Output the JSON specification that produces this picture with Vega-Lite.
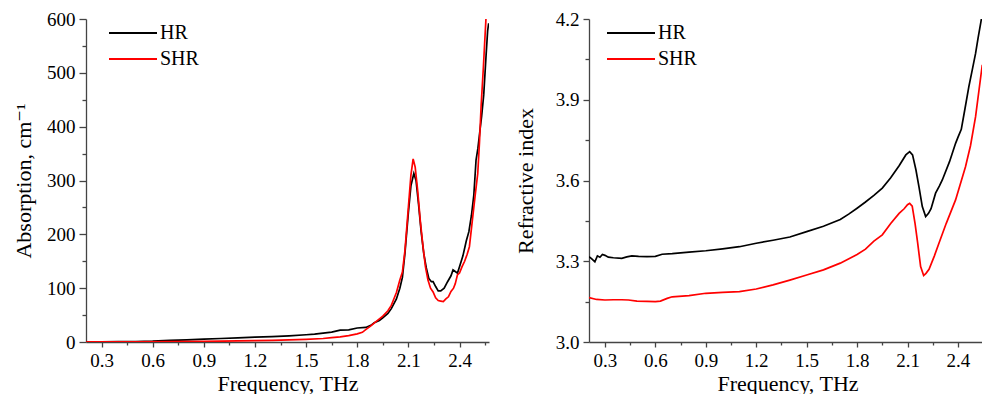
{
  "$schema": "https://vega.github.io/schema/vega-lite/v6.json",
  "autosize": {"type": "pad"},
  "padding": {"left": 12, "top": 10, "right": 0, "bottom": 0},
  "background": "white",
  "config": {
    "font": "Liberation Serif, Times New Roman, DejaVu Serif, serif",
    "view": {"stroke": null},
    "axis": {
      "labelFont": "Liberation Serif, Times New Roman, DejaVu Serif, serif",
      "titleFont": "Liberation Serif, Times New Roman, DejaVu Serif, serif",
      "labelFontSize": 19,
      "titleFontSize": 22,
      "titleFontWeight": "normal",
      "labelColor": "#000",
      "titleColor": "#000",
      "domainColor": "#444",
      "tickColor": "#444",
      "domainWidth": 1.3,
      "tickWidth": 1.3,
      "grid": false
    },
    "legend": {
      "labelFont": "Liberation Serif, Times New Roman, DejaVu Serif, serif",
      "labelFontSize": 20,
      "labelColor": "#000"
    }
  },
  "datasets": {
    "absorption": [
      {"f": 0.21, "v": 0.5, "s": "HR"}, {"f": 0.3, "v": 0.5, "s": "HR"}, {"f": 0.4, "v": 0.6, "s": "HR"}, {"f": 0.5, "v": 0.8, "s": "HR"},
      {"f": 0.6, "v": 1.5, "s": "HR"}, {"f": 0.7, "v": 3, "s": "HR"}, {"f": 0.8, "v": 4, "s": "HR"}, {"f": 0.9, "v": 5.5, "s": "HR"},
      {"f": 1.0, "v": 6.5, "s": "HR"}, {"f": 1.1, "v": 7.5, "s": "HR"}, {"f": 1.2, "v": 9, "s": "HR"}, {"f": 1.3, "v": 10, "s": "HR"},
      {"f": 1.4, "v": 11.5, "s": "HR"}, {"f": 1.5, "v": 13.5, "s": "HR"}, {"f": 1.55, "v": 14.5, "s": "HR"}, {"f": 1.6, "v": 16.5, "s": "HR"},
      {"f": 1.65, "v": 18.5, "s": "HR"}, {"f": 1.7, "v": 22, "s": "HR"}, {"f": 1.75, "v": 22.5, "s": "HR"}, {"f": 1.8, "v": 26, "s": "HR"},
      {"f": 1.85, "v": 27, "s": "HR"}, {"f": 1.88, "v": 31, "s": "HR"}, {"f": 1.9, "v": 36, "s": "HR"}, {"f": 1.93, "v": 40, "s": "HR"},
      {"f": 1.95, "v": 45, "s": "HR"}, {"f": 1.98, "v": 53, "s": "HR"}, {"f": 2.0, "v": 62, "s": "HR"}, {"f": 2.03, "v": 80, "s": "HR"},
      {"f": 2.05, "v": 100, "s": "HR"}, {"f": 2.065, "v": 120, "s": "HR"}, {"f": 2.08, "v": 165, "s": "HR"}, {"f": 2.1, "v": 240, "s": "HR"},
      {"f": 2.115, "v": 290, "s": "HR"}, {"f": 2.132, "v": 313, "s": "HR"}, {"f": 2.145, "v": 300, "s": "HR"}, {"f": 2.16, "v": 255, "s": "HR"},
      {"f": 2.175, "v": 205, "s": "HR"}, {"f": 2.19, "v": 165, "s": "HR"}, {"f": 2.205, "v": 138, "s": "HR"}, {"f": 2.22, "v": 118, "s": "HR"},
      {"f": 2.235, "v": 112, "s": "HR"}, {"f": 2.245, "v": 112, "s": "HR"}, {"f": 2.26, "v": 103, "s": "HR"}, {"f": 2.275, "v": 95, "s": "HR"},
      {"f": 2.29, "v": 95, "s": "HR"}, {"f": 2.31, "v": 100, "s": "HR"}, {"f": 2.33, "v": 112, "s": "HR"}, {"f": 2.35, "v": 123, "s": "HR"},
      {"f": 2.362, "v": 134, "s": "HR"}, {"f": 2.375, "v": 131, "s": "HR"}, {"f": 2.388, "v": 128, "s": "HR"}, {"f": 2.4, "v": 140, "s": "HR"},
      {"f": 2.42, "v": 160, "s": "HR"}, {"f": 2.44, "v": 188, "s": "HR"}, {"f": 2.455, "v": 205, "s": "HR"}, {"f": 2.47, "v": 235, "s": "HR"},
      {"f": 2.484, "v": 273, "s": "HR"}, {"f": 2.497, "v": 338, "s": "HR"}, {"f": 2.508, "v": 360, "s": "HR"}, {"f": 2.517, "v": 385, "s": "HR"},
      {"f": 2.53, "v": 420, "s": "HR"}, {"f": 2.542, "v": 459, "s": "HR"}, {"f": 2.556, "v": 533, "s": "HR"}, {"f": 2.565, "v": 578, "s": "HR"},
      {"f": 2.571, "v": 592, "s": "HR"},
      {"f": 0.21, "v": 0.3, "s": "SHR"}, {"f": 0.3, "v": 0.3, "s": "SHR"}, {"f": 0.5, "v": 0.3, "s": "SHR"}, {"f": 0.7, "v": 0.6, "s": "SHR"},
      {"f": 0.9, "v": 1, "s": "SHR"}, {"f": 1.0, "v": 1.5, "s": "SHR"}, {"f": 1.1, "v": 2, "s": "SHR"}, {"f": 1.2, "v": 2.5, "s": "SHR"},
      {"f": 1.3, "v": 3, "s": "SHR"}, {"f": 1.4, "v": 4, "s": "SHR"}, {"f": 1.5, "v": 5, "s": "SHR"}, {"f": 1.6, "v": 6.5, "s": "SHR"},
      {"f": 1.65, "v": 8, "s": "SHR"}, {"f": 1.7, "v": 9.5, "s": "SHR"}, {"f": 1.75, "v": 12, "s": "SHR"}, {"f": 1.8, "v": 15, "s": "SHR"},
      {"f": 1.83, "v": 18, "s": "SHR"}, {"f": 1.85, "v": 23, "s": "SHR"}, {"f": 1.88, "v": 30, "s": "SHR"}, {"f": 1.91, "v": 38, "s": "SHR"},
      {"f": 1.95, "v": 48, "s": "SHR"}, {"f": 1.98, "v": 58, "s": "SHR"}, {"f": 2.0, "v": 68, "s": "SHR"}, {"f": 2.03, "v": 92, "s": "SHR"},
      {"f": 2.05, "v": 115, "s": "SHR"}, {"f": 2.065, "v": 130, "s": "SHR"}, {"f": 2.08, "v": 170, "s": "SHR"}, {"f": 2.1, "v": 250, "s": "SHR"},
      {"f": 2.115, "v": 310, "s": "SHR"}, {"f": 2.128, "v": 340, "s": "SHR"}, {"f": 2.14, "v": 325, "s": "SHR"}, {"f": 2.155, "v": 280, "s": "SHR"},
      {"f": 2.17, "v": 225, "s": "SHR"}, {"f": 2.185, "v": 180, "s": "SHR"}, {"f": 2.2, "v": 140, "s": "SHR"}, {"f": 2.215, "v": 115, "s": "SHR"},
      {"f": 2.23, "v": 100, "s": "SHR"}, {"f": 2.245, "v": 93, "s": "SHR"}, {"f": 2.26, "v": 82, "s": "SHR"}, {"f": 2.275, "v": 77, "s": "SHR"},
      {"f": 2.29, "v": 76, "s": "SHR"}, {"f": 2.305, "v": 75, "s": "SHR"}, {"f": 2.32, "v": 80, "s": "SHR"}, {"f": 2.335, "v": 84, "s": "SHR"},
      {"f": 2.35, "v": 94, "s": "SHR"}, {"f": 2.365, "v": 100, "s": "SHR"}, {"f": 2.375, "v": 108, "s": "SHR"}, {"f": 2.388, "v": 125, "s": "SHR"},
      {"f": 2.4, "v": 128, "s": "SHR"}, {"f": 2.415, "v": 140, "s": "SHR"}, {"f": 2.43, "v": 150, "s": "SHR"}, {"f": 2.445, "v": 163, "s": "SHR"},
      {"f": 2.458, "v": 177, "s": "SHR"}, {"f": 2.475, "v": 225, "s": "SHR"}, {"f": 2.492, "v": 273, "s": "SHR"}, {"f": 2.507, "v": 313, "s": "SHR"},
      {"f": 2.517, "v": 370, "s": "SHR"}, {"f": 2.527, "v": 440, "s": "SHR"}, {"f": 2.54, "v": 510, "s": "SHR"}, {"f": 2.55, "v": 570, "s": "SHR"},
      {"f": 2.556, "v": 605, "s": "SHR"}
    ],
    "index": [
      {"f": 0.205, "v": 3.317, "s": "HR"}, {"f": 0.22, "v": 3.31, "s": "HR"}, {"f": 0.24, "v": 3.298, "s": "HR"}, {"f": 0.255, "v": 3.32, "s": "HR"},
      {"f": 0.27, "v": 3.315, "s": "HR"}, {"f": 0.285, "v": 3.325, "s": "HR"}, {"f": 0.3, "v": 3.322, "s": "HR"}, {"f": 0.32, "v": 3.315, "s": "HR"},
      {"f": 0.35, "v": 3.313, "s": "HR"}, {"f": 0.4, "v": 3.311, "s": "HR"}, {"f": 0.43, "v": 3.316, "s": "HR"}, {"f": 0.46, "v": 3.32, "s": "HR"},
      {"f": 0.5, "v": 3.318, "s": "HR"}, {"f": 0.55, "v": 3.317, "s": "HR"}, {"f": 0.6, "v": 3.318, "s": "HR"}, {"f": 0.64, "v": 3.326, "s": "HR"},
      {"f": 0.7, "v": 3.328, "s": "HR"}, {"f": 0.8, "v": 3.334, "s": "HR"}, {"f": 0.9, "v": 3.339, "s": "HR"}, {"f": 1.0, "v": 3.346, "s": "HR"},
      {"f": 1.1, "v": 3.354, "s": "HR"}, {"f": 1.2, "v": 3.367, "s": "HR"}, {"f": 1.3, "v": 3.378, "s": "HR"}, {"f": 1.4, "v": 3.39, "s": "HR"},
      {"f": 1.5, "v": 3.41, "s": "HR"}, {"f": 1.6, "v": 3.43, "s": "HR"}, {"f": 1.7, "v": 3.455, "s": "HR"}, {"f": 1.75, "v": 3.475, "s": "HR"},
      {"f": 1.8, "v": 3.497, "s": "HR"}, {"f": 1.85, "v": 3.52, "s": "HR"}, {"f": 1.9, "v": 3.545, "s": "HR"}, {"f": 1.95, "v": 3.572, "s": "HR"},
      {"f": 2.0, "v": 3.61, "s": "HR"}, {"f": 2.05, "v": 3.655, "s": "HR"}, {"f": 2.09, "v": 3.695, "s": "HR"}, {"f": 2.113, "v": 3.707, "s": "HR"},
      {"f": 2.13, "v": 3.695, "s": "HR"}, {"f": 2.15, "v": 3.64, "s": "HR"}, {"f": 2.168, "v": 3.577, "s": "HR"}, {"f": 2.188, "v": 3.503, "s": "HR"},
      {"f": 2.208, "v": 3.466, "s": "HR"}, {"f": 2.225, "v": 3.478, "s": "HR"}, {"f": 2.24, "v": 3.495, "s": "HR"}, {"f": 2.267, "v": 3.553, "s": "HR"},
      {"f": 2.29, "v": 3.58, "s": "HR"}, {"f": 2.307, "v": 3.602, "s": "HR"}, {"f": 2.35, "v": 3.67, "s": "HR"}, {"f": 2.386, "v": 3.738, "s": "HR"},
      {"f": 2.4, "v": 3.76, "s": "HR"}, {"f": 2.42, "v": 3.79, "s": "HR"}, {"f": 2.44, "v": 3.86, "s": "HR"}, {"f": 2.465, "v": 3.949, "s": "HR"},
      {"f": 2.485, "v": 4.01, "s": "HR"}, {"f": 2.505, "v": 4.072, "s": "HR"}, {"f": 2.52, "v": 4.13, "s": "HR"}, {"f": 2.537, "v": 4.19, "s": "HR"},
      {"f": 2.545, "v": 4.22, "s": "HR"},
      {"f": 0.205, "v": 3.165, "s": "SHR"}, {"f": 0.25, "v": 3.158, "s": "SHR"}, {"f": 0.3, "v": 3.156, "s": "SHR"}, {"f": 0.35, "v": 3.157, "s": "SHR"},
      {"f": 0.4, "v": 3.157, "s": "SHR"}, {"f": 0.44, "v": 3.156, "s": "SHR"}, {"f": 0.49, "v": 3.152, "s": "SHR"}, {"f": 0.55, "v": 3.151, "s": "SHR"},
      {"f": 0.6, "v": 3.15, "s": "SHR"}, {"f": 0.63, "v": 3.152, "s": "SHR"}, {"f": 0.67, "v": 3.162, "s": "SHR"}, {"f": 0.7, "v": 3.168, "s": "SHR"},
      {"f": 0.8, "v": 3.172, "s": "SHR"}, {"f": 0.9, "v": 3.181, "s": "SHR"}, {"f": 1.0, "v": 3.184, "s": "SHR"}, {"f": 1.1, "v": 3.187, "s": "SHR"},
      {"f": 1.2, "v": 3.197, "s": "SHR"}, {"f": 1.3, "v": 3.212, "s": "SHR"}, {"f": 1.4, "v": 3.23, "s": "SHR"}, {"f": 1.5, "v": 3.249, "s": "SHR"},
      {"f": 1.6, "v": 3.268, "s": "SHR"}, {"f": 1.7, "v": 3.293, "s": "SHR"}, {"f": 1.8, "v": 3.325, "s": "SHR"}, {"f": 1.85, "v": 3.345, "s": "SHR"},
      {"f": 1.9, "v": 3.375, "s": "SHR"}, {"f": 1.95, "v": 3.398, "s": "SHR"}, {"f": 2.0, "v": 3.44, "s": "SHR"}, {"f": 2.05, "v": 3.478, "s": "SHR"},
      {"f": 2.08, "v": 3.495, "s": "SHR"}, {"f": 2.1, "v": 3.51, "s": "SHR"}, {"f": 2.113, "v": 3.515, "s": "SHR"}, {"f": 2.128, "v": 3.505, "s": "SHR"},
      {"f": 2.145, "v": 3.44, "s": "SHR"}, {"f": 2.16, "v": 3.37, "s": "SHR"}, {"f": 2.178, "v": 3.28, "s": "SHR"}, {"f": 2.196, "v": 3.247, "s": "SHR"},
      {"f": 2.21, "v": 3.255, "s": "SHR"}, {"f": 2.228, "v": 3.27, "s": "SHR"}, {"f": 2.26, "v": 3.32, "s": "SHR"}, {"f": 2.287, "v": 3.367, "s": "SHR"},
      {"f": 2.33, "v": 3.44, "s": "SHR"}, {"f": 2.386, "v": 3.528, "s": "SHR"}, {"f": 2.445, "v": 3.651, "s": "SHR"}, {"f": 2.475, "v": 3.73, "s": "SHR"},
      {"f": 2.505, "v": 3.837, "s": "SHR"}, {"f": 2.537, "v": 3.992, "s": "SHR"}, {"f": 2.545, "v": 4.03, "s": "SHR"}
    ]
  },
  "bounds": "flush",
  "spacing": 100,
  "resolve": {"legend": {"color": "independent"}, "scale": {"color": "independent"}},
  "hconcat": [
    {
      "width": 403,
      "height": 323,
      "data": {"name": "absorption"},
      "mark": {"type": "line", "strokeWidth": 1.7, "clip": true},
      "encoding": {
        "x": {
          "field": "f", "type": "quantitative",
          "scale": {"domain": [0.209, 2.573], "nice": false, "zero": false},
          "axis": {
            "title": "Frequency, THz",
            "values": [0.3, 0.45, 0.6, 0.75, 0.9, 1.05, 1.2, 1.35, 1.5, 1.65, 1.8, 1.95, 2.1, 2.25, 2.4, 2.55],
            "labelExpr": "round(datum.value*20) % 6 == 0 ? format(datum.value, '.1f') : ''",
            "tickSize": {"condition": {"test": "round(datum.value*20) % 6 != 0", "value": 3}, "value": 5},
            "labelPadding": 4,
            "titlePadding": 3
          }
        },
        "y": {
          "field": "v", "type": "quantitative",
          "scale": {"domain": [0, 600], "nice": false},
          "axis": {
            "title": "Absorption, cm⁻¹",
            "values": [0, 50, 100, 150, 200, 250, 300, 350, 400, 450, 500, 550, 600],
            "labelExpr": "datum.value % 100 == 0 ? datum.label : ''",
            "tickSize": {"condition": {"test": "datum.value % 100 != 0", "value": 4}, "value": 7},
            "labelPadding": 4,
            "titlePadding": 11
          }
        },
        "color": {
          "field": "s", "type": "nominal",
          "scale": {"domain": ["HR", "SHR"], "range": ["#000000", "#ff0000"]},
          "legend": {
            "title": null, "orient": "none", "legendX": 34, "legendY": 1,
            "symbolType": "M-2,0H2", "symbolSize": 576, "symbolStrokeWidth": 2,
            "symbolFillColor": "transparent",
            "labelOffset": 14, "rowPadding": 3
          }
        }
      }
    },
    {
      "width": 397,
      "height": 323,
      "data": {"name": "index"},
      "mark": {"type": "line", "strokeWidth": 1.7, "clip": true},
      "encoding": {
        "x": {
          "field": "f", "type": "quantitative",
          "scale": {"domain": [0.205, 2.567], "nice": false, "zero": false},
          "axis": {
            "title": "Frequency, THz",
            "values": [0.3, 0.45, 0.6, 0.75, 0.9, 1.05, 1.2, 1.35, 1.5, 1.65, 1.8, 1.95, 2.1, 2.25, 2.4, 2.55],
            "labelExpr": "round(datum.value*20) % 6 == 0 ? format(datum.value, '.1f') : ''",
            "tickSize": {"condition": {"test": "round(datum.value*20) % 6 != 0", "value": 3}, "value": 5},
            "labelPadding": 4,
            "titlePadding": 3
          }
        },
        "y": {
          "field": "v", "type": "quantitative",
          "scale": {"domain": [3.0, 4.2], "nice": false, "zero": false},
          "axis": {
            "title": "Refractive index",
            "values": [3.0, 3.15, 3.3, 3.45, 3.6, 3.75, 3.9, 4.05, 4.2],
            "labelExpr": "round(datum.value*100) % 30 == 0 ? format(datum.value, '.1f') : ''",
            "tickSize": {"condition": {"test": "round(datum.value*100) % 30 != 0", "value": 4}, "value": 6},
            "labelPadding": 4,
            "titlePadding": 18
          }
        },
        "color": {
          "field": "s", "type": "nominal",
          "scale": {"domain": ["HR", "SHR"], "range": ["#000000", "#ff0000"]},
          "legend": {
            "title": null, "orient": "none", "legendX": 29, "legendY": 1,
            "symbolType": "M-2,0H2", "symbolSize": 576, "symbolStrokeWidth": 2,
            "symbolFillColor": "transparent",
            "labelOffset": 14, "rowPadding": 3
          }
        }
      }
    }
  ]
}
